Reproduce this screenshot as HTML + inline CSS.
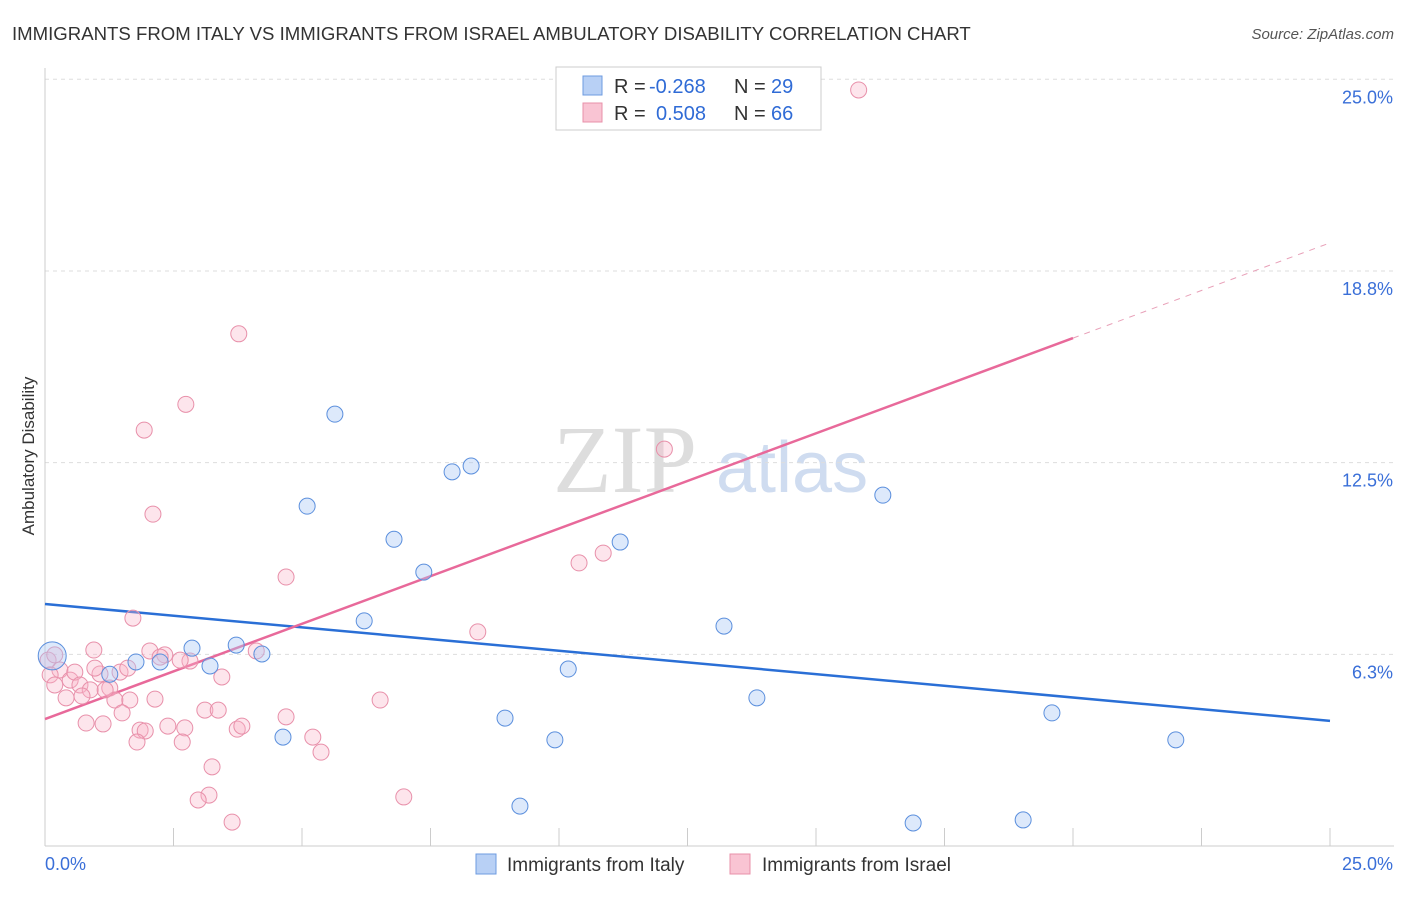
<!DOCTYPE html>
<html><head><meta charset="utf-8"><style>
body{margin:0;background:#fff;font-family:"Liberation Sans",sans-serif}
</style></head><body>
<svg width="1406" height="892" xmlns="http://www.w3.org/2000/svg" font-family="Liberation Sans, sans-serif">
<text x="12" y="40" font-size="18.6" fill="#333">IMMIGRANTS FROM ITALY VS IMMIGRANTS FROM ISRAEL AMBULATORY DISABILITY CORRELATION CHART</text>
<text x="1394" y="39" font-size="15" fill="#555" font-style="italic" text-anchor="end">Source: ZipAtlas.com</text>
<text x="0" y="0" transform="translate(34,456) rotate(-90)" font-size="17" fill="#333" text-anchor="middle">Ambulatory Disability</text>
<g><text x="553" y="492" font-size="96" fill="#ddd" font-family="Liberation Serif, serif">ZIP</text><text x="716" y="492" font-size="72" fill="#cfdcf0">atlas</text></g>
<g id="grid"></g><g id="axes"></g><g id="lines"></g><g id="pts"></g>
<g>
<rect x="556" y="67" width="265" height="63" fill="#fff" stroke="#ccc"/>
<rect x="583" y="76" width="19" height="19" fill="#b8d0f5" stroke="#6e9be0"/>
<rect x="583" y="103" width="19" height="19" fill="#f9c4d3" stroke="#e890aa"/>
<text x="614" y="93" font-size="20" fill="#333">R =</text>
<text x="649" y="93" font-size="20" fill="#2f6bd6">-0.268</text>
<text x="734" y="93" font-size="20" fill="#333">N =</text>
<text x="771" y="93" font-size="20" fill="#2f6bd6">29</text>
<text x="614" y="120" font-size="20" fill="#333">R =</text>
<text x="656" y="120" font-size="20" fill="#2f6bd6">0.508</text>
<text x="734" y="120" font-size="20" fill="#333">N =</text>
<text x="771" y="120" font-size="20" fill="#2f6bd6">66</text>
</g>
<g>
<rect x="476" y="854" width="20" height="20" fill="#b8d0f5" stroke="#6e9be0"/>
<text x="507" y="871" font-size="19" fill="#333">Immigrants from Italy</text>
<rect x="730" y="854" width="20" height="20" fill="#f9c4d3" stroke="#e890aa"/>
<text x="762" y="871" font-size="19" fill="#333">Immigrants from Israel</text>
</g>
</svg>
<script>
const italyX=[0.14,1.26,1.77,2.24,2.86,3.21,3.72,4.22,4.63,5.1,5.64,6.21,6.79,7.37,7.92,8.29,8.95,9.24,9.92,10.18,11.19,13.21,13.85,16.3,16.89,19.03,19.59,22.0];
const italyY=[6.2,5.6,6.0,6.0,6.45,5.87,6.55,6.26,3.55,11.08,14.08,7.34,10.0,8.93,12.2,12.39,4.17,1.3,3.46,5.77,9.91,7.17,4.83,11.44,0.75,0.85,4.34,3.46];
const israelX=[15.83,3.77,2.74,1.93,12.05,2.1,10.86,10.39,4.69,8.42,1.71,0.95,2.04,2.33,2.24,2.82,2.63,4.11,3.44,0.06,0.19,0.29,0.10,0.49,0.58,0.68,0.88,1.07,1.26,1.46,1.61,1.36,1.17,1.65,1.50,0.41,0.72,2.14,3.11,3.37,4.69,6.52,0.80,1.13,1.85,1.95,2.39,2.72,3.74,3.83,5.21,5.37,1.79,2.67,3.25,3.19,2.98,3.64,6.98,0.19,0.97];
const israelY=[24.65,16.7,14.4,13.56,12.94,10.82,9.55,9.23,8.77,6.98,7.43,6.39,6.36,6.23,6.16,6.03,6.06,6.36,5.51,6.06,6.23,5.74,5.58,5.41,5.67,5.25,5.09,5.61,5.15,5.67,5.80,4.76,5.09,4.76,4.34,4.83,4.89,4.79,4.43,4.43,4.21,4.76,4.01,3.98,3.78,3.75,3.91,3.85,3.81,3.91,3.55,3.06,3.39,3.39,2.58,1.66,1.50,0.78,1.60,5.25,5.80];
const italyTrend=[7.89,-0.1524];
const israelTrend=[4.14,0.621];
const yTicks=[6.3,12.5,18.8,25.0];
const yTickPos=[6.25,12.5,18.75,25];
const NS="http://www.w3.org/2000/svg";
const X=v=>45+v*51.4, Y=v=>846-v*30.67;
function mk(t,a,p){const e=document.createElementNS(NS,t);for(const k in a)e.setAttribute(k,a[k]);document.getElementById(p).appendChild(e);return e;}
yTickPos.forEach((v,i)=>{const l=mk('line',{x1:45,x2:1394,y1:Y(v),y2:Y(v),stroke:'#ddd','stroke-dasharray':'4,4'},'grid');


const t=mk('text',{x:1393,y:Y(v)+24,'font-size':18,fill:'#3a6fd8','text-anchor':'end'},'axes');t.textContent=yTicks[i].toFixed(1)+'%';

});
const ax=mk('line',{x1:45,x2:45,y1:68,y2:846,stroke:'#ccc'},'axes');

const bx=mk('line',{x1:45,x2:1394,y1:846,y2:846,stroke:'#ccc'},'axes');

for(let i=0;i<=10;i++){const l=mk('line',{x1:X(i*2.5),x2:X(i*2.5),y1:828,y2:846,stroke:'#ccc'},'axes');

}
[['0.0%',45,'start'],['25.0%',1393,'end']].forEach(d=>{const t=mk('text',{x:d[1],y:870,'font-size':18,fill:'#3a6fd8','text-anchor':d[2]},'axes');t.textContent=d[0];

});
function tl(tr,x0,x1,col,dash,name){const l=mk('line',{x1:X(x0),y1:Y(tr[0]+tr[1]*x0),x2:X(x1),y2:Y(tr[0]+tr[1]*x1),stroke:col,'stroke-width':dash?1:2.5},'lines');if(dash)l.setAttribute('stroke-dasharray','6,6');

}
tl(italyTrend,0,25,'#2a6fd6',false,'italy-trend-line');
tl(israelTrend,0,20,'#e8699a',false,'israel-trend-line');
tl(israelTrend,20,25,'#e8a0b8',true,'israel-trend-extension');
israelX.forEach((x,i)=>{const c=mk('circle',{cx:X(x),cy:Y(israelY[i]),r:8,fill:'rgba(248,180,200,0.35)',stroke:'#e890aa','stroke-width':1},'pts');

});
italyX.forEach((x,i)=>{const c=mk('circle',{cx:X(x),cy:Y(italyY[i]),r:i==0?14:8,fill:'rgba(170,200,245,0.4)',stroke:'#5b8fdd','stroke-width':1},'pts');

});
</script>
</body></html>
